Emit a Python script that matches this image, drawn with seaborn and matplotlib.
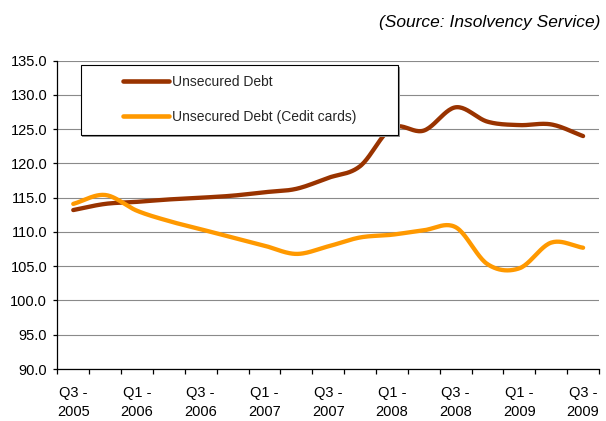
import numpy as np
import pandas as pd
import matplotlib
matplotlib.use("Agg")
import matplotlib.pyplot as plt
import seaborn as sns
from matplotlib.patches import Rectangle
from matplotlib.lines import Line2D
from matplotlib.ticker import FuncFormatter

# ---- data ----
quarters = ["Q3 - 2005", "Q4 - 2005", "Q1 - 2006", "Q2 - 2006", "Q3 - 2006", "Q4 - 2006",
            "Q1 - 2007", "Q2 - 2007", "Q3 - 2007", "Q4 - 2007", "Q1 - 2008", "Q2 - 2008",
            "Q3 - 2008", "Q4 - 2008", "Q1 - 2009", "Q2 - 2009", "Q3 - 2009"]
unsecured_debt = [113.2, 114.1, 114.4, 114.75, 115.0, 115.3, 115.8, 116.3, 117.9, 119.6,
                  125.2, 124.8, 128.2, 126.1, 125.6, 125.7, 124.0]
credit_cards = [114.1, 115.4, 113.1, 111.6, 110.4, 109.2, 108.0, 106.8, 107.9, 109.2,
                109.6, 110.25, 110.7, 105.3, 104.7, 108.45, 107.7]
series_names = ["Unsecured Debt", "Unsecured Debt (Cedit cards)"]
series_colors = ["#993300", "#FF9900"]
y_ticks = [90, 95, 100, 105, 110, 115, 120, 125, 130, 135]
source_text = "(Source: Insolvency Service)"


def smooth(values, n=24):
    """Catmull-Rom style smoothing (like Excel's 'smoothed line' rendering)."""
    y = np.asarray(values, float)
    k = len(y)
    m = np.empty(k)
    m[1:-1] = (y[2:] - y[:-2]) / 2.0
    m[0] = y[1] - y[0]
    m[-1] = y[-1] - y[-2]
    xs, ys = [], []
    t = np.linspace(0, 1, n, endpoint=False)
    for i in range(k - 1):
        h00 = 2 * t**3 - 3 * t**2 + 1
        h10 = t**3 - 2 * t**2 + t
        h01 = -2 * t**3 + 3 * t**2
        h11 = t**3 - t**2
        ys.append(h00 * y[i] + h10 * m[i] + h01 * y[i + 1] + h11 * m[i + 1])
        xs.append(i + t)
    xs.append(np.array([k - 1.0]))
    ys.append(np.array([y[-1]]))
    return np.concatenate(xs), np.concatenate(ys)


frames = []
for name, vals in zip(series_names, [unsecured_debt, credit_cards]):
    xs, ys = smooth(vals)
    frames.append(pd.DataFrame({"x": xs, "value": ys, "series": name}))
df = pd.concat(frames, ignore_index=True)

sns.set_theme(style="white")
plt.rcParams["font.family"] = ["Liberation Sans", "DejaVu Sans"]

fig = plt.figure(figsize=(6.06, 4.21), dpi=100)
ax = fig.add_axes([0.0946, 0.1235, 0.8939, 0.7323])

sns.lineplot(data=df, x="x", y="value", hue="series",
             palette=dict(zip(series_names, series_colors)),
             estimator=None, sort=False, lw=3.1, legend=False, ax=ax)
for ln in ax.get_lines():
    ln.set_solid_capstyle("round")
    ln.set_solid_joinstyle("round")

ax.set_xlim(-0.5, len(quarters) - 0.5)
ax.set_ylim(y_ticks[0], y_ticks[-1])
ax.set_yticks(y_ticks)
ax.yaxis.set_major_formatter(FuncFormatter(lambda v, p: f"{v:.1f}"))
ax.grid(axis="y", color="#8a8a8a", lw=0.8)
ax.grid(axis="x", visible=False)
ax.set_axisbelow(True)
for s in ["top", "right"]:
    ax.spines[s].set_visible(False)
for s in ["left", "bottom"]:
    ax.spines[s].set_color("black")
    ax.spines[s].set_linewidth(0.9)
    ax.spines[s].set_zorder(3)

ax.set_xticks(np.arange(-0.5, len(quarters), 1.0))
ax.set_xticklabels([])
label_idx = list(range(0, len(quarters), 2))
ax.set_xticks(label_idx, minor=True)
ax.set_xticklabels([quarters[i].replace(" - ", " -\n") for i in label_idx], minor=True,
                   linespacing=1.45)
ax.tick_params(axis="x", which="major", length=3.3, width=0.9, direction="out",
               color="black", bottom=True)
ax.tick_params(axis="x", which="minor", length=0, pad=12.5, labelsize=10.5,
               labelcolor="black", bottom=True)
ax.tick_params(axis="y", length=3, width=0.9, direction="out", pad=4.3,
               labelsize=10.5, labelcolor="black", color="black", left=True)
ax.set_xlabel("")
ax.set_ylabel("")

# legend frame (with slight shadow)
ax.add_patch(Rectangle((0.0432 + 0.0028, 0.759 - 0.0049), 0.5858, 0.227,
                       transform=ax.transAxes, facecolor="#909090", edgecolor="none",
                       zorder=4.9, clip_on=False))
ax.add_patch(Rectangle((0.0432, 0.759), 0.5858, 0.227, transform=ax.transAxes,
                       facecolor="white", edgecolor="black", lw=0.8, zorder=5,
                       clip_on=False))
handles = [Line2D([], [], color=c, lw=3.3, solid_capstyle="round") for c in series_colors]
leg = ax.legend(handles, series_names, loc="upper left", bbox_to_anchor=(0.1207, 0.953),
                frameon=False, borderpad=0, borderaxespad=0, handlelength=3.35,
                handletextpad=0.17, labelspacing=1.47, fontsize=10)
leg.set_zorder(6)

fig.text(600 / 606, 1 - 23 / 421, source_text, ha="right", va="center",
         style="italic", fontsize=12.5, color="black")

fig.savefig("out.png", dpi=100, facecolor="white")
